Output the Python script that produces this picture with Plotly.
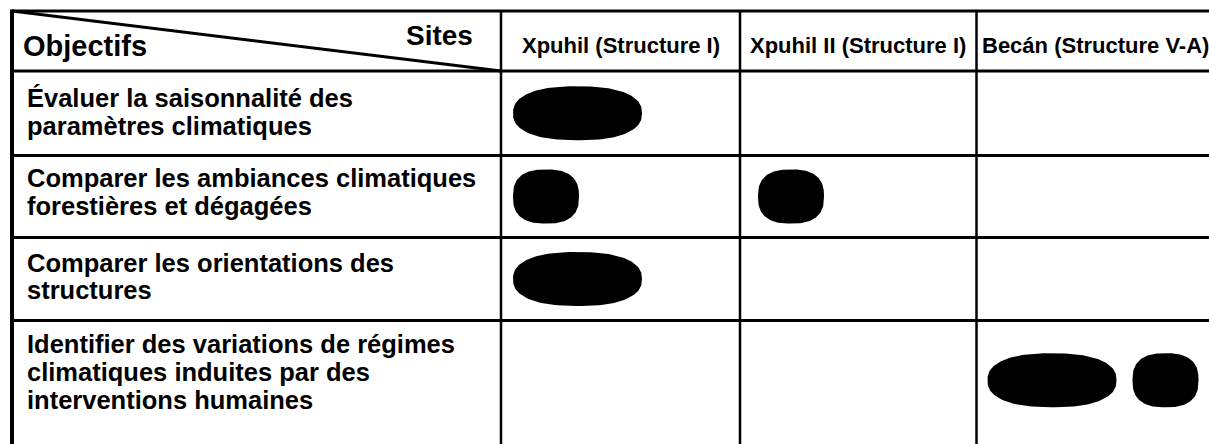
import numpy as np
import plotly.graph_objects as go

# ---------------- data ----------------
corner_left = "Objectifs"
corner_right = "Sites"
sites = ["Xpuhil (Structure I)", "Xpuhil II (Structure I)", "Becán (Structure V-A)"]
objectives = [
    ["Évaluer la saisonnalité des", "paramètres climatiques"],
    ["Comparer les ambiances climatiques", "forestières et dégagées"],
    ["Comparer les orientations des", "structures"],
    ["Identifier des variations de régimes", "climatiques induites par des", "interventions humaines"],
]
# marks per objective (row) and site (column): "L" = long mark, "S" = short mark
marks = [
    [["L"], [], []],
    [["S"], ["S"], []],
    [["L"], [], []],
    [[], [], ["L", "S"]],
]

# ---------------- style (pixel space) ----------------
W, H = 1209, 444
col_edges = [12, 501, 740, 976.5, 1213.5]
row_edges = [11, 71, 155.5, 237.5, 320.5, 440]
text_dy = [-1.5, -4.5, -2.5, -8.0]
line_gap = 27.8
mark_w = {"L": 129, "S": 66}
mark_n = {"L": 2.4, "S": 2.6}
mark_h = 54
mark_gap = 16
mark_pad = [12, 18, 11]
FONT = "Liberation Sans, Arial, Helvetica, sans-serif"


def superellipse(cx, cy, a, b, n, k=160):
    t = np.linspace(0, 2 * np.pi, k)
    c, s = np.cos(t), np.sin(t)
    xs = cx + a * np.sign(c) * np.abs(c) ** (2 / n)
    ys = cy + b * np.sign(s) * np.abs(s) ** (2 / n)
    return list(xs), list(ys)


fig = go.Figure()

# marks
for r, row in enumerate(marks):
    yc = (row_edges[r + 1] + row_edges[r + 2]) / 2
    for c, cell in enumerate(row):
        x = col_edges[c + 1] + mark_pad[c]
        for kind in cell:
            w = mark_w[kind]
            xs, ys = superellipse(x + w / 2, yc, w / 2, mark_h / 2, mark_n[kind])
            fig.add_trace(go.Scatter(x=xs, y=ys, mode="lines", fill="toself",
                                     fillcolor="black", line=dict(width=0, color="black"),
                                     hoverinfo="skip", showlegend=False))
            x += w + mark_gap

shapes = []
lw = 3
# horizontal lines
for y in row_edges[:-1]:
    shapes.append(dict(type="line", x0=col_edges[0], x1=W, y0=y, y1=y,
                       line=dict(color="black", width=lw)))
# vertical lines
shapes.append(dict(type="line", x0=col_edges[0], x1=col_edges[0], y0=row_edges[0] - 1.5, y1=H,
                   line=dict(color="black", width=4)))
for x in col_edges[1:-1]:
    shapes.append(dict(type="line", x0=x, x1=x, y0=row_edges[0], y1=H,
                       line=dict(color="black", width=2.5)))
# diagonal in header corner
shapes.append(dict(type="line", x0=col_edges[0], y0=row_edges[0], x1=col_edges[1], y1=row_edges[1],
                   line=dict(color="black", width=3)))
for s in shapes:
    s.update(xref="x", yref="y", layer="above")

ann = []
ann.append(dict(x=21, y=45.5, text=corner_left, xanchor="left", yanchor="middle",
                font=dict(size=29, weight="bold")))
ann.append(dict(x=475, y=35.5, text=corner_right, xanchor="right", yanchor="middle",
                font=dict(size=28, weight="bold")))
for c, s in enumerate(sites):
    ann.append(dict(x=(col_edges[c + 1] + col_edges[c + 2]) / 2, y=45, text=s,
                    xanchor="center", yanchor="middle", font=dict(size=22, weight="bold")))
for r, lines in enumerate(objectives):
    yc = (row_edges[r + 1] + row_edges[r + 2]) / 2 + text_dy[r]
    n = len(lines)
    for i, t in enumerate(lines):
        ann.append(dict(x=25, y=yc + (i - (n - 1) / 2) * line_gap, text=t,
                        xanchor="left", yanchor="middle", font=dict(size=25.5, weight="bold")))
for a in ann:
    a.update(xref="x", yref="y", showarrow=False)
    a["font"].update(family=FONT, color="black")

fig.update_layout(
    width=W, height=H, margin=dict(l=0, r=0, t=0, b=0),
    paper_bgcolor="white", plot_bgcolor="white",
    xaxis=dict(range=[0, W], visible=False, fixedrange=True),
    yaxis=dict(range=[H, 0], visible=False, fixedrange=True),
    shapes=shapes, annotations=ann, showlegend=False,
)
fig.write_html("out.html", config={"displayModeBar": False},
               post_script="document.body.style.margin='0';document.body.style.padding='0';"
                           "document.body.style.overflow='hidden';")
